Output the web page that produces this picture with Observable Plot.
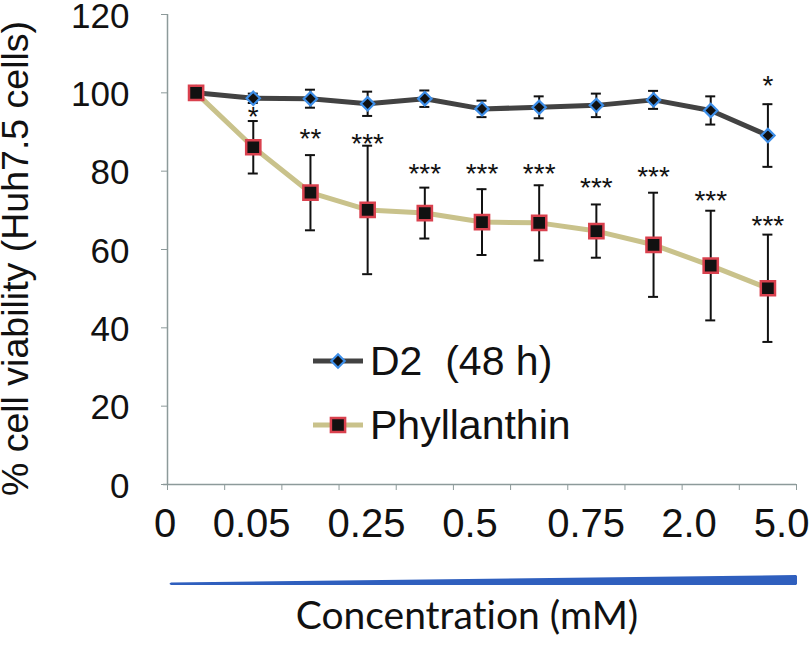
<!DOCTYPE html>
<html><head><meta charset="utf-8">
<script src="https://cdn.jsdelivr.net/npm/d3@7"></script>
<script src="https://cdn.jsdelivr.net/npm/@observablehq/plot@0.6"></script>
<style>
html,body{margin:0;padding:0;background:#fff;}
#wrap{position:relative;width:810px;height:647px;font-family:"Liberation Sans",Arial,sans-serif;color:#111;}
.leg{position:absolute;left:313px;height:46px;display:flex;align-items:center;font-size:41px;line-height:46px;white-space:pre;color:#111;}
.leg svg{margin-right:7px;}
svg text{font-variant-ligatures:none;}
</style></head><body><div id="wrap"></div>
<script>
// ---- data ----
const pointIndex = [0, 1, 2, 3, 4, 5, 6, 7, 8, 9, 10];
const d2Mean = [100, 98.6, 98.5, 97.2, 98.5, 95.9, 96.3, 96.8, 98.2, 95.5, 89.1];
const d2Err  = [0, 1.2, 2.3, 3.1, 2.1, 2.1, 2.8, 3.0, 2.3, 3.6, 8.0];
const phMean = [100, 86.1, 74.5, 70.1, 69.3, 67.0, 66.8, 64.7, 61.2, 55.9, 50.1];
const phErr  = [0, 6.7, 9.6, 16.4, 6.5, 8.4, 9.6, 6.8, 13.3, 14.0, 13.7];
const phSig   = ["", "*", "**", "***", "***", "***", "***", "***", "***", "***", "***"];
const phSigAt = [null, 95.5, 89.9, 88.8, 81.0, 81.0, 81.0, 77.6, 80.2, 74.2, 67.8];
const d2Sig   = ["", "", "", "", "", "", "", "", "", "", "*"];
const d2SigAt = [null, null, null, null, null, null, null, null, null, null, 103.6];
const xTickLabels = ["0", "0.05", "0.25", "0.5", "0.75", "2.0", "5.0"];
const xTickLabelAt = [-0.54, 0.97, 2.98, 4.79, 6.82, 8.62, 10.24];
const yTicks = [0, 20, 40, 60, 80, 100, 120];
const seriesNames = ["D2  (48 h)", "Phyllanthin"];
const yTitle = "% cell viability (Huh7.5 cells)";
const xTitle = "Concentration (mM)";

// ---- styles ----
const gray = "#8d9a9a";
const d2Line = "#424242", d2Stroke = "#3d8ee8";
const phLine = "#c9c28b", phStroke = "#d9414e";

const d2 = pointIndex.map((i, k) => ({i, v: d2Mean[k], e: d2Err[k], s: d2Sig[k], sy: d2SigAt[k]}));
const ph = pointIndex.map((i, k) => ({i, v: phMean[k], e: phErr[k], s: phSig[k], sy: phSigAt[k]}));

function errorBars(rows) {
  const f = d => d.e > 0;
  return [
    Plot.ruleX(rows, {filter: f, x: "i", y1: d => d.v - d.e, y2: d => d.v + d.e, stroke: "#111", strokeWidth: 2}),
    Plot.ruleY(rows, {filter: f, y: d => d.v + d.e, x1: "i", x2: "i", insetLeft: -5, insetRight: -5, stroke: "#111", strokeWidth: 2}),
    Plot.ruleY(rows, {filter: f, y: d => d.v - d.e, x1: "i", x2: "i", insetLeft: -5, insetRight: -5, stroke: "#111", strokeWidth: 2})
  ];
}

function wedge(index, scales, values, dimensions) {
  const x0 = scales.x(-0.5) + 4, x1 = scales.x(10.5);
  const yb = dimensions.height - dimensions.marginBottom + 101;
  const p = d3.create("svg:path")
    .attr("d", `M${x0},${yb - 2.5} L${x1},${yb - 10} L${x1 + 1},${yb - 9} L${x1 + 1},${yb - 1} L${x1},${yb} L${x0},${yb} Q${x0 - 3},${yb - 1.2} ${x0},${yb - 2.5} Z`)
    .attr("fill", "#2f5fbe");
  return p.node();
}

const chart = Plot.plot({
  width: 810,
  height: 647,
  marginLeft: 167,
  marginRight: 14,
  marginTop: 14,
  marginBottom: 163,
  style: {fontFamily: "'Liberation Sans', Arial, sans-serif", color: "#111", background: "#fff", overflow: "visible"},
  x: {type: "linear", domain: [-0.5, 10.5]},
  y: {domain: [0, 120]},
  marks: [
    Plot.ruleX([-0.5], {stroke: gray, strokeWidth: 1.5}),
    Plot.ruleY([0], {stroke: gray, strokeWidth: 1.5, insetLeft: -4}),
    Plot.axisY({ticks: yTicks, tickSize: 6, tickFormat: () => "", stroke: gray, label: null}),
    Plot.axisY({ticks: yTicks, tickSize: 0, tickPadding: 38, fontSize: 35, dy: 2, label: null}),
    Plot.axisX({ticks: d3.range(-0.5, 11, 1), tickSize: 6, tickFormat: () => "", stroke: gray, label: null}),
    Plot.text(xTickLabels, {x: (d, k) => xTickLabelAt[k], frameAnchor: "bottom", dy: 52, fontSize: 40, text: d => d}),
    Plot.text([yTitle], {frameAnchor: "left", textAnchor: "middle", rotate: -90, dx: -152, dy: 9, fontSize: 37.5, text: d => d}),
    Plot.text([xTitle], {frameAnchor: "bottom", dx: -15, dy: 144, fontSize: 39, fontFamily: "Lato", text: d => d}),
    wedge,
    Plot.line(d2, {x: "i", y: "v", stroke: d2Line, strokeWidth: 5}),
    Plot.line(ph, {x: "i", y: "v", stroke: phLine, strokeWidth: 5}),
    ...errorBars(d2),
    ...errorBars(ph),
    Plot.dot(d2, {x: "i", y: "v", symbol: "diamond2", r: 6, fill: "#111", stroke: d2Stroke, strokeWidth: 2.2}),
    Plot.dot(ph, {x: "i", y: "v", symbol: "square", r: 8, fill: "#111", stroke: phStroke, strokeWidth: 2.5}),
    Plot.text(ph, {filter: d => d.s, x: "i", y: "sy", text: "s", fontSize: 28, dy: 7}),
    Plot.text(d2, {filter: d => d.s, x: "i", y: "sy", text: "s", fontSize: 28, dy: 7})
  ]
});

const wrap = document.getElementById("wrap");
wrap.appendChild(chart);

// legend
const legendItems = [
  {name: seriesNames[0], line: d2Line, stroke: d2Stroke, symbol: d3.symbolDiamond2, size: Math.PI * 36, sw: 2.2, top: 338},
  {name: seriesNames[1], line: phLine, stroke: phStroke, symbol: d3.symbolSquare, size: Math.PI * 64, sw: 2.5, top: 402}
];
for (const it of legendItems) {
  const row = document.createElement("div");
  row.className = "leg";
  row.style.top = it.top + "px";
  const svg = d3.create("svg").attr("width", 50).attr("height", 24);
  svg.append("line").attr("x1", 0).attr("x2", 50).attr("y1", 12).attr("y2", 12)
    .attr("stroke", it.line).attr("stroke-width", 5);
  svg.append("path").attr("transform", "translate(25,12)").attr("d", d3.symbol(it.symbol, it.size)())
    .attr("fill", "#111").attr("stroke", it.stroke).attr("stroke-width", it.sw);
  row.appendChild(svg.node());
  const span = document.createElement("span");
  span.textContent = it.name;
  row.appendChild(span);
  wrap.appendChild(row);
}
</script></body></html>
